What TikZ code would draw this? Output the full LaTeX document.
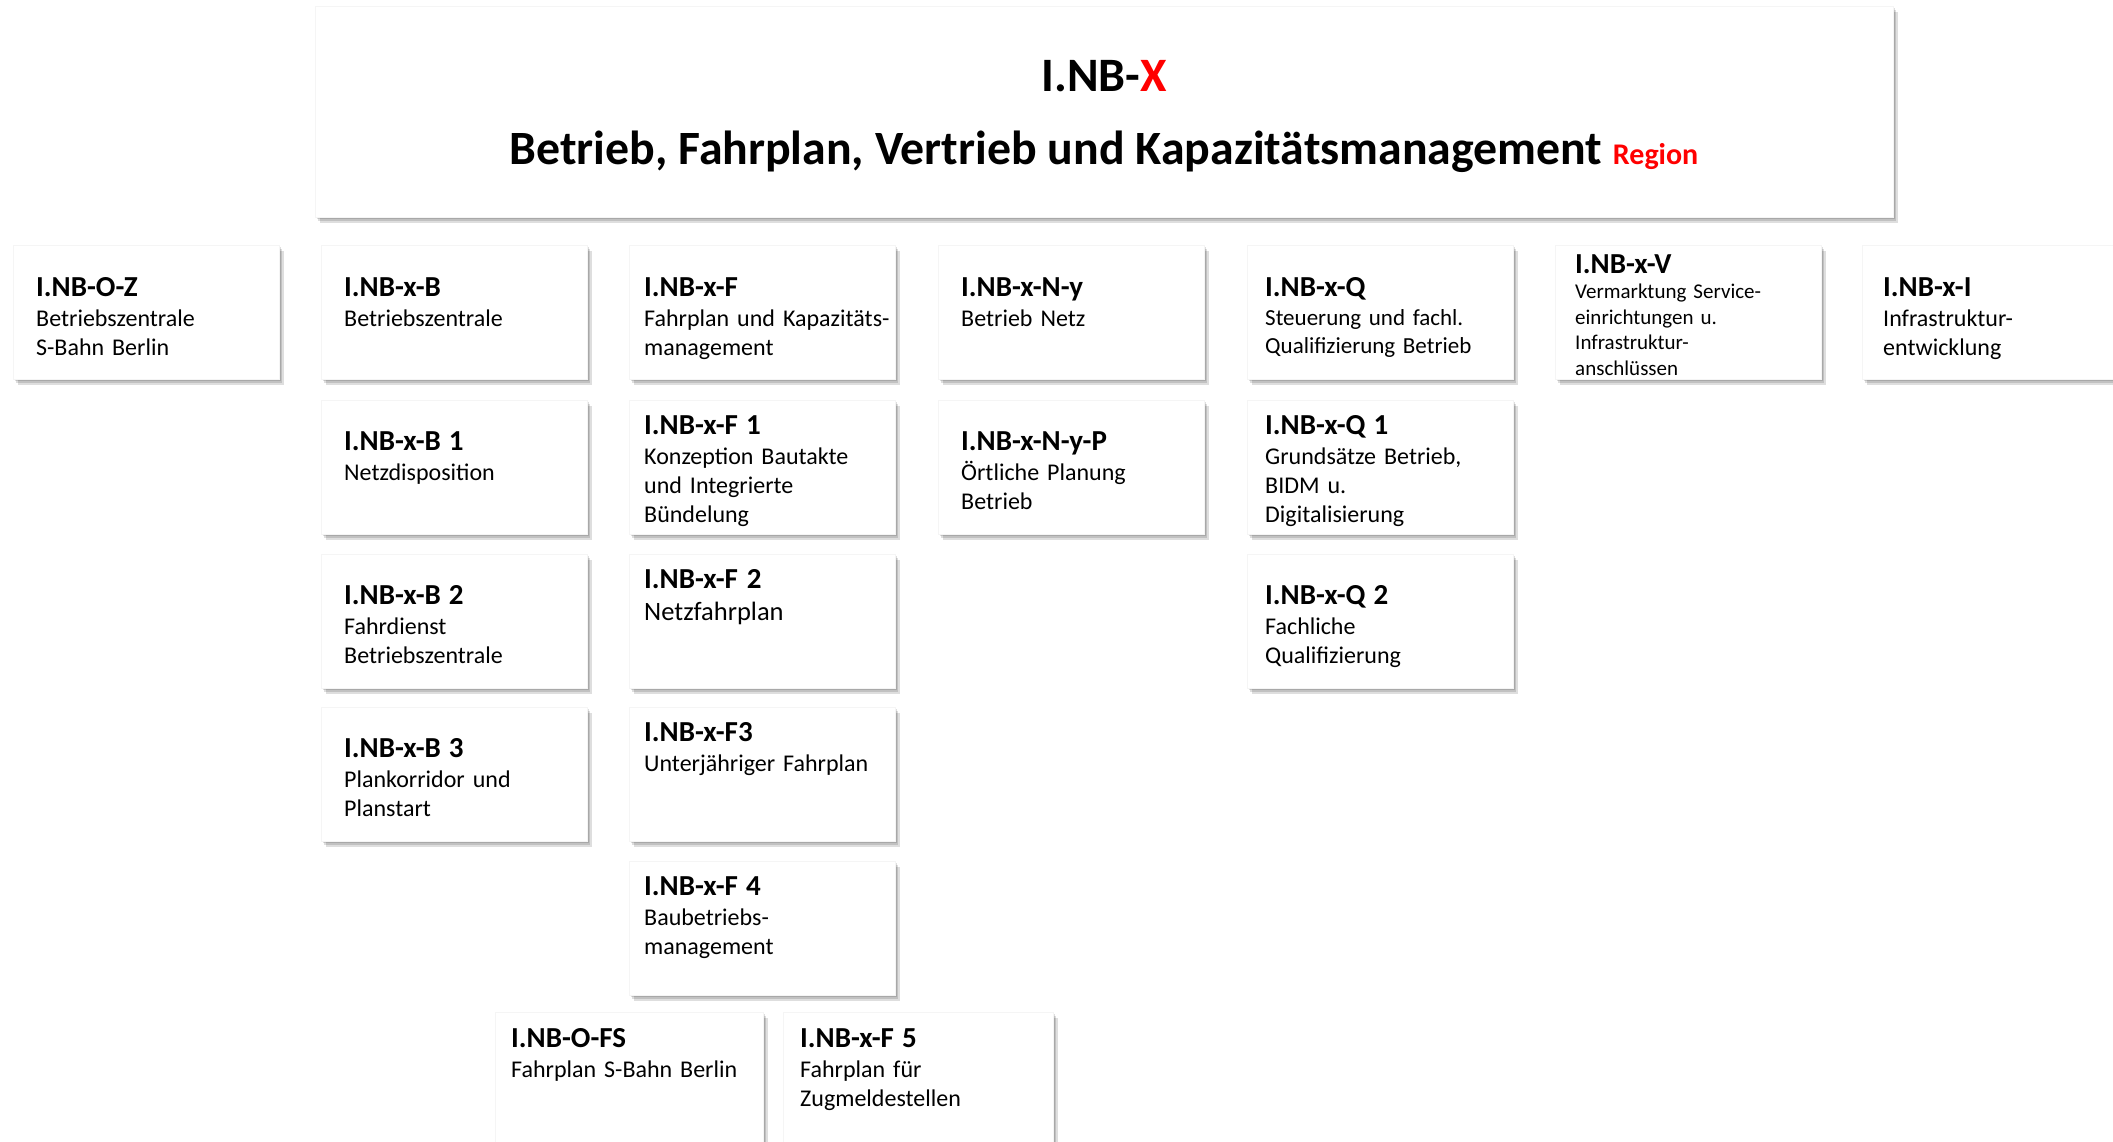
\documentclass[tikz,border=0pt]{standalone}
\usepackage{fontspec}
\setmainfont{Carlito}
\usetikzlibrary{shadows}
\newcommand{\fsz}[2]{\fontsize{#1}{#2}\selectfont}
\newcommand{\ttl}[1]{{\fsz{29}{29}\bfseries #1}}
\tikzset{
  softshadow/.style={
    general shadow={fill=black, opacity=0.13, shadow xshift=1.5pt, shadow yshift=-2pt},
    general shadow={fill=black, opacity=0.13, shadow xshift=3pt, shadow yshift=-4pt},
    general shadow={fill=black, opacity=0.13, shadow xshift=4.5pt, shadow yshift=-6pt}},
  unitbox/.style={draw=black!4, fill=white, minimum width=266pt, minimum height=134pt,
    inner sep=0pt, anchor=north west, softshadow},
  txt/.style={anchor=base west, inner sep=0pt, text width=262pt, align=left,
    font={\fsz{24}{29}}},
}
\begin{document}
\begin{tikzpicture}[x=1pt,y=-1pt]
\useasboundingbox (0,0) rectangle (2113,1142);
\clip (0,0) rectangle (2113,1142);
\fill[white] (0,0) rectangle (2113,1142);

% top box
\node[draw=black!4, fill=white, softshadow, inner sep=0pt, anchor=north west,
      minimum width=1578pt, minimum height=211pt] (top) at (315,6) {};
\node[anchor=base, inner sep=0pt, font={\fsz{48}{56}\bfseries}] (topt1) at (1104,92)
  {I.NB-\textcolor{red}{X}};
\node[anchor=base, inner sep=0pt, font={\fsz{47.8}{56}\bfseries}] (topt2) at (1104,165)
  {Betrieb, Fahrplan, Vertrieb und Kapazitätsmanagement \textcolor{red}{\fsz{30}{35}Region}};

% row 1
\node[unitbox] (oz) at (13,245) {};
\node[txt] (ozt) at (36,296) {\ttl{I.NB-O-Z}\\[1pt]Betriebszentrale\\S-Bahn Berlin};
\node[unitbox] (b) at (321,245) {};
\node[txt] (bt) at (344,296) {\ttl{I.NB-x-B}\\[1pt]Betriebszentrale};
\node[unitbox] (f) at (629,245) {};
\node[txt] (ft) at (644,296) {\ttl{I.NB-x-F}\\[1pt]Fahrplan und Kapazitäts-\\management};
\node[unitbox] (ny) at (938,245) {};
\node[txt] (nyt) at (961,296) {\ttl{I.NB-x-N-y}\\[1pt]Betrieb Netz};
\node[unitbox] (q) at (1247,245) {};
\node[txt, font={\fsz{23}{28.5}}] (qt) at (1265,296) {\ttl{I.NB-x-Q}\\[1pt]Steuerung und fachl.\\Qualifizierung Betrieb};
\node[unitbox] (v) at (1555,245) {};
\node[txt, font={\fsz{21}{25.6}}] (vt) at (1575,273) {\ttl{I.NB-x-V}\\Vermarktung Service-\\einrichtungen u.\\Infrastruktur-\\anschlüssen};
\node[unitbox] (i) at (1862,245) {};
\node[txt] (it) at (1883,296) {\ttl{I.NB-x-I}\\[1pt]Infrastruktur-\\entwicklung};

% row 2
\node[unitbox] (b1) at (321,400) {};
\node[txt] (b1t) at (344,450) {\ttl{I.NB-x-B 1}\\[1pt]Netzdisposition};
\node[unitbox] (f1) at (629,400) {};
\node[txt] (f1t) at (644,434) {\ttl{I.NB-x-F 1}\\[1pt]Konzeption Bautakte\\und Integrierte\\Bündelung};
\node[unitbox] (nyp) at (938,400) {};
\node[txt] (nypt) at (961,450) {\ttl{I.NB-x-N-y-P}\\[1pt]Örtliche Planung\\Betrieb};
\node[unitbox] (q1) at (1247,400) {};
\node[txt] (q1t) at (1265,434) {\ttl{I.NB-x-Q 1}\\[1pt]Grundsätze Betrieb,\\BIDM u.\\Digitalisierung};

% row 3
\node[unitbox] (b2) at (321,554) {};
\node[txt] (b2t) at (344,604) {\ttl{I.NB-x-B 2}\\[1pt]Fahrdienst\\Betriebszentrale};
\node[unitbox] (f2) at (629,554) {};
\node[txt, font={\fsz{26.5}{31}}] (f2t) at (644,588) {\ttl{I.NB-x-F 2}\\[1pt]Netzfahrplan};
\node[unitbox] (q2) at (1247,554) {};
\node[txt] (q2t) at (1265,604) {\ttl{I.NB-x-Q 2}\\[1pt]Fachliche\\Qualifizierung};

% row 4
\node[unitbox] (b3) at (321,707) {};
\node[txt] (b3t) at (344,757) {\ttl{I.NB-x-B 3}\\[1pt]Plankorridor und\\Planstart};
\node[unitbox] (f3) at (629,707) {};
\node[txt] (f3t) at (644,741) {\ttl{I.NB-x-F3}\\[1pt]Unterjähriger Fahrplan};

% row 5
\node[unitbox] (f4) at (629,861) {};
\node[txt] (f4t) at (644,895) {\ttl{I.NB-x-F 4}\\[1pt]Baubetriebs-\\management};

% row 6
\node[unitbox, minimum width=268pt] (ofs) at (495,1012) {};
\node[txt] (ofst) at (511,1047) {\ttl{I.NB-O-FS}\\[1pt]Fahrplan S-Bahn Berlin};
\node[unitbox, minimum width=270pt] (f5) at (783,1012) {};
\node[txt] (f5t) at (800,1047) {\ttl{I.NB-x-F 5}\\[1pt]Fahrplan für\\Zugmeldestellen};
\end{tikzpicture}
\end{document}
